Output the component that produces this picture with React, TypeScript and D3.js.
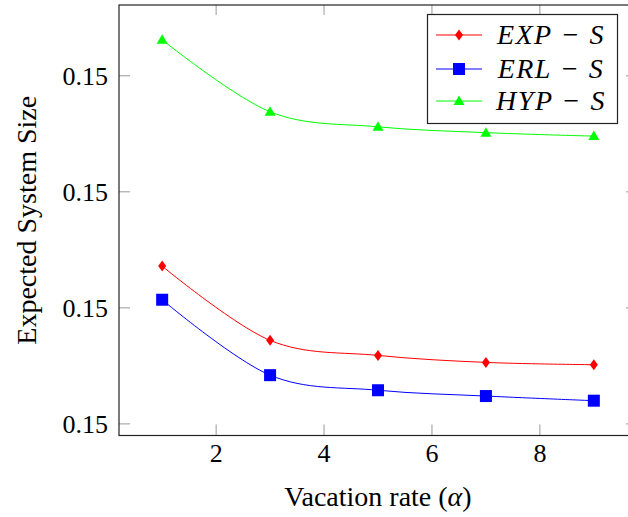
import * as d3 from "d3";

// vacation rate alpha on x, expected system size on y
const alphas = [1, 3, 5, 7, 9];
const expS = [0.149836, 0.149772, 0.149759, 0.149753, 0.149751];
const erlS = [0.149807, 0.149742, 0.149729, 0.149724, 0.14972];
const hypS = [0.150031, 0.149969, 0.149956, 0.149951, 0.149948];
const xTicks = [2, 4, 6, 8];
const yTicks = [0.1497, 0.1498, 0.1499, 0.15];
const seriesNames = ["EXP − S", "ERL − S", "HYP − S"];
const seriesColors = ["#ff0000", "#0000ff", "#00ff00"];

const W = 628;
const H = 517;
const FONT = "Liberation Serif";

function Marker({ kind, cx, cy, color }: { kind: number; cx: number; cy: number; color: string }) {
  if (kind === 0) {
    const pts = [
      [cx, cy - 5.5],
      [cx + 4, cy],
      [cx, cy + 5.5],
      [cx - 4, cy],
    ];
    return <polygon points={pts.map((p) => p.join(",")).join(" ")} fill={color} />;
  }
  if (kind === 1) {
    return <rect x={cx - 6} y={cy - 6} width={12} height={12} fill={color} />;
  }
  const pts = [
    [cx, cy - 5.5],
    [cx + 5.5, cy + 4],
    [cx - 5.5, cy + 4],
  ];
  return <polygon points={pts.map((p) => p.join(",")).join(" ")} fill={color} />;
}

export default function App() {
  const left = 119;
  const right = 637;
  const top = 5;
  const bottom = 435.5;

  const x = d3.scaleLinear().domain([0.2, 9.8]).range([left, right]);
  const y = d3.scaleLinear().domain([0.14969, 0.150061]).range([bottom, top]);

  const line = d3
    .line<[number, number]>()
    .x((d) => x(d[0]))
    .y((d) => y(d[1]))
    .curve(d3.curveCardinal.tension(0));

  const all = [expS, erlS, hypS];
  const legX = 427.5;
  const legY = 14.5;
  const legW = 190;
  const legH = 109;
  const rowY = [35, 69, 101];

  return (
    <div style={{ position: "absolute", left: 0, top: 0 }}>
      <svg width={W} height={H} style={{ display: "block" }}>
        <rect x={0} y={0} width={W} height={H} fill="#fff" />
        {/* ticks */}
        {xTicks.map((t) => (
          <g key={"x" + t} stroke="#999" strokeWidth={1}>
            <line x1={x(t)} x2={x(t)} y1={bottom} y2={bottom - 11} />
            <line x1={x(t)} x2={x(t)} y1={top} y2={top + 10} />
          </g>
        ))}
        {yTicks.map((t) => (
          <g key={"y" + t} stroke="#999" strokeWidth={1}>
            <line x1={left} x2={left + 11} y1={y(t)} y2={y(t)} />
            <line x1={right} x2={right - 11} y1={y(t)} y2={y(t)} />
          </g>
        ))}
        {/* series */}
        {all.map((vals, i) => {
          const pts = alphas.map((a, j) => [a, vals[j]] as [number, number]);
          return (
            <g key={i}>
              <path d={line(pts) ?? ""} fill="none" stroke={seriesColors[i]} strokeWidth={1} />
              {pts.map((p, j) => (
                <Marker key={j} kind={i} cx={x(p[0])} cy={y(p[1])} color={seriesColors[i]} />
              ))}
            </g>
          );
        })}
        {/* frame */}
        <rect x={left} y={top} width={right - left} height={bottom - top} fill="none" stroke="#222" strokeWidth={1.2} />
        {/* tick labels */}
        {xTicks.map((t) => (
          <text key={"xl" + t} x={x(t)} y={462} textAnchor="middle" fontSize={26} style={{ fontFamily: FONT }}>
            {t}
          </text>
        ))}
        {yTicks.map((t) => (
          <text key={"yl" + t} x={108} y={y(t) + 9} textAnchor="end" fontSize={26} style={{ fontFamily: FONT }}>
            {t.toFixed(2)}
          </text>
        ))}
        {/* axis labels */}
        <text x={(left + right) / 2} y={506} textAnchor="middle" fontSize={28} style={{ fontFamily: FONT }}>
          Vacation rate (<tspan fontStyle="italic">α</tspan>)
        </text>
        <text
          transform={`translate(36,${(top + bottom) / 2}) rotate(-90)`}
          textAnchor="middle"
          fontSize={28}
          style={{ fontFamily: FONT }}
        >
          Expected System Size
        </text>
        {/* legend */}
        <rect x={legX} y={legY} width={legW} height={legH} fill="#fff" stroke="#222" strokeWidth={1.2} />
        {seriesNames.map((n, i) => (
          <g key={n}>
            <line x1={436} x2={482} y1={rowY[i]} y2={rowY[i]} stroke={seriesColors[i]} strokeWidth={1} />
            <Marker kind={i} cx={459} cy={rowY[i]} color={seriesColors[i]} />
            <text
              x={551}
              y={rowY[i] + 9}
              textAnchor="middle"
              fontSize={28}
              fontStyle="italic"
              letterSpacing={1.5}
              style={{ fontFamily: FONT }}
            >
              {n}
            </text>
          </g>
        ))}
      </svg>
    </div>
  );
}
